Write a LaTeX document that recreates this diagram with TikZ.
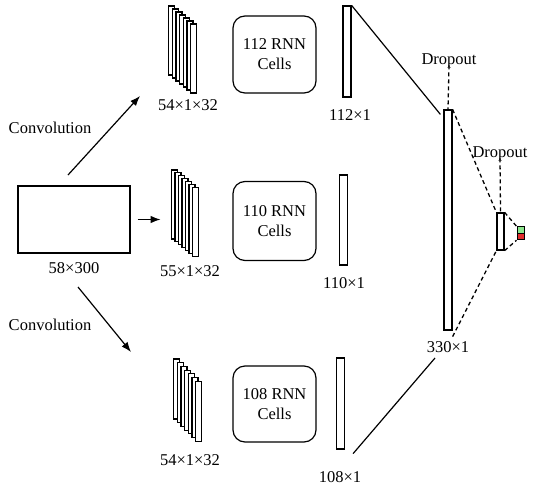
\documentclass[tikz,border=0pt]{standalone}
\usepackage{fontspec}
\setmainfont{Liberation Serif}
\usetikzlibrary{arrows.meta,positioning}

\definecolor{outgreen}{RGB}{140,230,140}
\definecolor{outred}{RGB}{225,45,45}

\tikzset{
    layer/.style={draw, fill=white, line width=1.2pt, minimum width=6pt, inner sep=0pt},
    vect/.style={draw, fill=white, line width=1.2pt, minimum width=8pt, inner sep=0pt},
    cellbox/.style={draw, line width=1.2pt, rounded corners=12pt, minimum width=83pt, align=center},
    outbox/.style={draw, line width=1pt, minimum width=7pt, minimum height=6.5pt, inner sep=0pt},
    conv/.style={-{Latex[length=10pt,width=7.5pt]}, line width=1.2pt},
    drop/.style={line width=1.3pt, dash pattern=on 4pt off 3pt},
    lbl/.style={inner sep=0pt}
}

\begin{document}
\begin{tikzpicture}[x=1pt, y=-1pt, font=\fontsize{16.5}{20}\selectfont]
    \useasboundingbox (0,0) rectangle (537,487);

    % input
    \node[draw, line width=1.2pt, minimum width=112pt, minimum height=67pt] (input) at (74,219.5) {};
    \node[lbl] (inlbl) at (74,268) {58×300};

    % convolution stacks
    \foreach \i in {0,...,6}
        \node[layer, minimum height=69pt] (sa\i) at (171.5+3.7*\i, 40.5+3*\i) {};
    \foreach \i in {0,...,6}
        \node[layer, minimum height=69pt] (sb\i) at (174.5+3.5*\i, 204.5+2.85*\i) {};
    \foreach \i in {0,...,6}
        \node[layer, minimum height=60pt] (sc\i) at (176.5+3.7*\i, 389+3.7*\i) {};
    \node[lbl] (salbl) at (188,105) {54×1×32};
    \node[lbl] (sblbl) at (190,271) {55×1×32};
    \node[lbl] (sclbl) at (190,460) {54×1×32};

    \coordinate (convA) at (68,175);
    \coordinate (convAend) at (140,96);
    \coordinate (convC) at (78,287);
    \coordinate (convCend) at (131,352);
    \draw[conv] (convA) -- (convAend);
    \draw[conv] (input.east) ++(7,0) -- ++(23,0);
    \draw[conv] (convC) -- (convCend);
    \node[lbl] (convlblA) at (50,128) {Convolution};
    \node[lbl] (convlblC) at (50,325) {Convolution};

    % RNN cells
    \node[cellbox, minimum height=77pt] (rnnA) at (274.5,54.5) {112 RNN\\Cells};
    \node[cellbox, minimum height=79pt] (rnnB) at (274.5,221) {110 RNN\\Cells};
    \node[cellbox, minimum height=76pt] (rnnC) at (274.5,404) {108 RNN\\Cells};

    % outputs of the RNNs
    \node[vect, minimum height=91pt] (vecA) at (347,51.5) {};
    \node[vect, minimum height=90pt] (vecB) at (343.5,220) {};
    \node[vect, minimum height=91pt] (vecC) at (340.5,403.5) {};
    \node[lbl] (vecAlbl) at (350,115) {112×1};
    \node[lbl] (vecBlbl) at (344,283) {110×1};
    \node[lbl] (vecClbl) at (340,477) {108×1};

    % concatenation and dense
    \node[vect, minimum height=220pt] (concat) at (448,220) {};
    \node[lbl] (concatlbl) at (448,347) {330×1};
    \node[vect, minimum width=7pt, minimum height=37pt] (dense) at (500.5,231.5) {};
    \node[outbox, fill=outgreen] (outG) at (520.5,230) {};
    \node[outbox, fill=outred] (outR) at (520.5,236.5) {};

    \coordinate (joinC) at (435,358);
    \draw[line width=1.2pt] (vecA.north east) -- ([xshift=-3pt,yshift=-5pt]concat.north west);
    \draw[line width=1.2pt] ([xshift=8pt,yshift=-4pt]vecC.south east) -- (joinC);

    \draw[drop] (concat.north east) -- (dense.north west);
    \draw[drop] ([yshift=-6pt]concat.south east) -- (dense.south west);
    \draw[drop] (dense.north east) -- (outG.north west);
    \draw[drop] (dense.south east) -- (outR.south west);

    % dropout
    \node[lbl] (dropA) at (449,61) {Dropout};
    \node[lbl] (dropB) at (500,154) {Dropout};
    \draw[drop] ([yshift=3pt]dropA.south) -- (concat.north);
    \draw[drop] ([yshift=3pt]dropB.south) -- (dense.north);
\end{tikzpicture}
\end{document}
